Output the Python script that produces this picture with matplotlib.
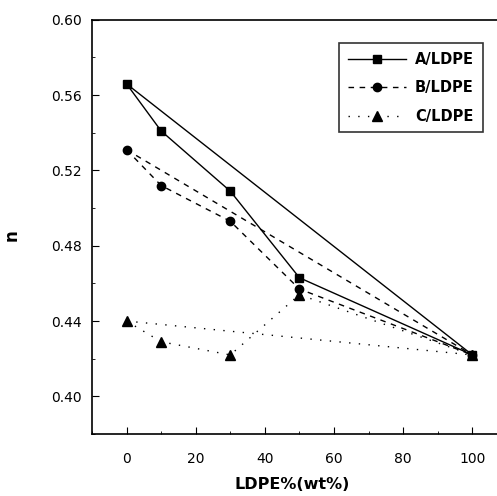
import matplotlib
matplotlib.use("Agg")
import matplotlib.pyplot as plt
from matplotlib.ticker import MultipleLocator

plt.rcParams['font.family'] = ['DejaVu Sans']

# LDPE content (wt%)
ldpe = [0, 10, 30, 50, 100]

# flow index n for each blend series
n_a = [0.566, 0.541, 0.509, 0.463, 0.422]
n_b = [0.531, 0.512, 0.493, 0.457, 0.422]
n_c = [0.440, 0.429, 0.422, 0.454, 0.422]

fig = plt.figure(figsize=(4.97, 4.96), dpi=100)
ax = fig.add_axes([0.185, 0.125, 0.835, 0.835])

dash = (0, (4, 4))
dot = (0, (1, 6))

# measured curves
ax.plot(ldpe, n_a, '-', color='black', lw=1, marker='s', ms=6, label='A/LDPE')
ax.plot(ldpe, n_b, color='black', lw=1, ls=dash, marker='o', ms=6, label='B/LDPE')
ax.plot(ldpe, n_c, color='black', lw=1, ls=dot, marker='^', ms=7, label='C/LDPE')

# additivity lines between the pure components
ends = [ldpe[0], ldpe[-1]]
ax.plot(ends, [n_a[0], n_a[-1]], '-', color='black', lw=1)
ax.plot(ends, [n_b[0], n_b[-1]], color='black', lw=1, ls=dash)
ax.plot(ends, [n_c[0], n_c[-1]], color='black', lw=1, ls=dot)

ax.set_xlim(-10, 110)
ax.set_ylim(0.38, 0.60)
ax.xaxis.set_major_locator(MultipleLocator(20))
ax.xaxis.set_minor_locator(MultipleLocator(10))
ax.yaxis.set_major_locator(MultipleLocator(0.04))
ax.yaxis.set_minor_locator(MultipleLocator(0.02))
ax.yaxis.set_major_formatter(plt.FormatStrFormatter('%.2f'))
ax.tick_params(which='both', direction='in', labelsize=10)
ax.tick_params(which='major', length=5)
ax.tick_params(which='minor', length=2.5)
ax.tick_params(axis='x', pad=13)
ax.tick_params(axis='y', pad=7)

for s in ax.spines.values():
    s.set_linewidth(1.2)

ax.set_xlabel('LDPE%(wt%)', fontsize=11.5, fontweight='bold')
ax.xaxis.set_label_coords(0.483, -0.105)
ax.set_ylabel('n', fontsize=12, fontweight='bold')
ax.yaxis.set_label_coords(-0.172, 0.48)

leg = ax.legend(loc='upper right', bbox_to_anchor=(0.942, 0.944), borderaxespad=0,
                frameon=True, fancybox=False, edgecolor='black', handlelength=4.0,
                prop={'weight': 'bold', 'size': 10.5}, labelspacing=0.92,
                borderpad=0.6, handletextpad=0.6)
leg.get_frame().set_linewidth(1.2)

fig.savefig('out.png', dpi=100)
